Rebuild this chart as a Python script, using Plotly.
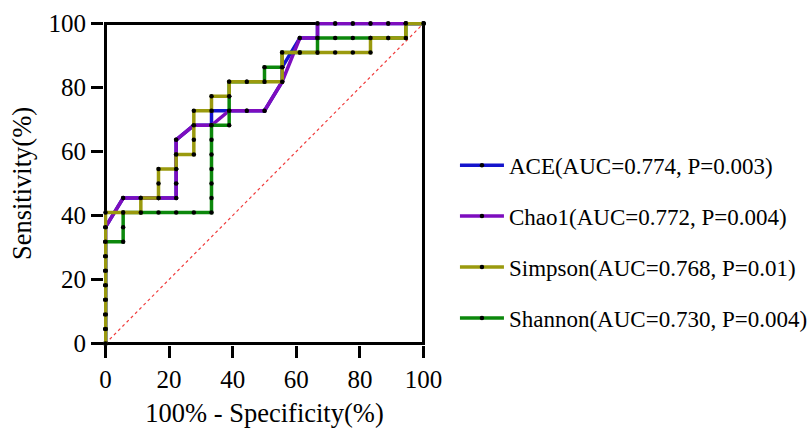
import numpy as np
import plotly.graph_objects as go

# ROC operating points as counts: false positives out of N_NEG controls,
# true positives out of N_POS cases
N_NEG = 18
N_POS = 22

ace_fp = [0, 0, 0, 0, 0, 0, 0, 0, 0, 1, 2, 3, 4, 4, 4, 4, 4,
          5, 6, 6, 7, 8, 9, 10, 10, 11, 12, 12, 13, 14, 15, 16, 17, 18]
ace_tp = [0, 1, 2, 3, 4, 5, 6, 7, 8, 10, 10, 10, 10, 11, 12, 13, 14,
          15, 15, 16, 16, 16, 16, 18, 19, 21, 21, 22, 22, 22, 22, 22, 22, 22]

chao1_fp = [0, 0, 0, 0, 0, 0, 0, 0, 0, 1, 2, 3, 4, 4, 4, 4, 4,
            5, 6, 7, 8, 9, 10, 11, 12, 12, 13, 14, 15, 16, 17, 18]
chao1_tp = [0, 1, 2, 3, 4, 5, 6, 7, 8, 10, 10, 10, 10, 11, 12, 13, 14,
            15, 15, 16, 16, 16, 18, 21, 21, 22, 22, 22, 22, 22, 22, 22]

simpson_fp = [0, 0, 0, 0, 0, 0, 0, 0, 0, 0,
              1, 2, 2, 3, 3, 3, 4, 4, 5, 5, 5, 5, 6, 6, 7, 7, 8, 9, 10, 10,
              10, 11, 12, 13, 14, 15, 15, 16, 17, 17, 18]
simpson_tp = [0, 1, 2, 3, 4, 5, 6, 7, 8, 9,
              9, 9, 10, 10, 11, 12, 12, 13, 13, 14, 15, 16, 16, 17, 17, 18, 18, 18, 18, 19,
              20, 20, 20, 20, 20, 20, 21, 21, 21, 22, 22]

shannon_fp = [0, 0, 0, 0, 0, 0, 0, 0,
              1, 1, 1, 2, 3, 4, 5, 6,
              6, 6, 6, 6, 6, 6,
              7, 7, 7, 7, 8, 9, 9, 10, 10, 11, 12, 12, 13, 14, 15, 16, 17, 17, 18]
shannon_tp = [0, 1, 2, 3, 4, 5, 6, 7,
              7, 8, 9, 9, 9, 9, 9, 9,
              10, 11, 12, 13, 14, 15,
              15, 16, 17, 18, 18, 18, 19, 19, 20, 20, 20, 21, 21, 21, 21, 21, 21, 22, 22]

legend_labels = {
    "ACE": "ACE(AUC=0.774, P=0.003)",
    "Chao1": "Chao1(AUC=0.772, P=0.004)",
    "Simpson": "Simpson(AUC=0.768, P=0.01)",
    "Shannon": "Shannon(AUC=0.730, P=0.004)",
}
tick_values = [0, 20, 40, 60, 80, 100]

FONT = "'Liberation Serif', 'Times New Roman', Times, serif"
colors = {
    "ACE": "#1414CC",
    "Chao1": "#7D0DBE",
    "Simpson": "#9A9A0E",
    "Shannon": "#0C880C",
}

series = {
    "ACE": (ace_fp, ace_tp),
    "Chao1": (chao1_fp, chao1_tp),
    "Simpson": (simpson_fp, simpson_tp),
    "Shannon": (shannon_fp, shannon_tp),
}
legend_rank = {"ACE": 1, "Chao1": 2, "Simpson": 3, "Shannon": 4}
draw_order = ["ACE", "Chao1", "Shannon", "Simpson"]

fig = go.Figure()

# chance line
fig.add_trace(go.Scatter(
    x=[0, 100], y=[0, 100], mode="lines",
    line=dict(color="#F03C3C", width=1.2, dash="dot"),
    showlegend=False, hoverinfo="skip",
))

for name in draw_order:
    fp, tp = series[name]
    x = 100 * np.array(fp) / N_NEG
    y = 100 * np.array(tp) / N_POS
    fig.add_trace(go.Scatter(
        x=x, y=y, mode="lines+markers", name=legend_labels[name],
        legendgroup=name, legendrank=legend_rank[name],
        line=dict(color=colors[name], width=3.5),
        marker=dict(color="black", size=4.5),
        cliponaxis=False,
    ))

pad = 0.47


def axis_style(title_text, standoff):
    return dict(
        range=[-pad, 100 + pad], tickmode="array", tickvals=tick_values,
        showline=False, showgrid=False, zeroline=False,
        ticks="outside", ticklen=12, tickwidth=3, tickcolor="black",
        tickfont=dict(family=FONT, size=25, color="black"),
        title=dict(text=title_text,
                   font=dict(family=FONT, size=26.5, color="black"),
                   standoff=standoff),
        fixedrange=True,
    )


# plot frame
fig.add_shape(type="rect", xref="x", yref="y", x0=0, x1=100, y0=0, y1=100,
              line=dict(color="black", width=3), layer="below")

fig.update_layout(
    template="none",
    width=807, height=428,
    margin=dict(l=103.5, r=382, t=21.8, b=83.2, autoexpand=False),
    paper_bgcolor="white", plot_bgcolor="white",
    font=dict(family=FONT, color="black", size=22),
    xaxis=axis_style("100% - Specificity(%)", 11),
    yaxis=axis_style("Sensitivity(%)", 9),
    showlegend=True,
    legend=dict(
        x=1.0933, y=0.623, xanchor="left", yanchor="top",
        font=dict(family=FONT, size=23, color="black"),
        itemwidth=44, tracegroupgap=18,
        bgcolor="rgba(0,0,0,0)", borderwidth=0,
    ),
)

fig.write_html("out.html")
